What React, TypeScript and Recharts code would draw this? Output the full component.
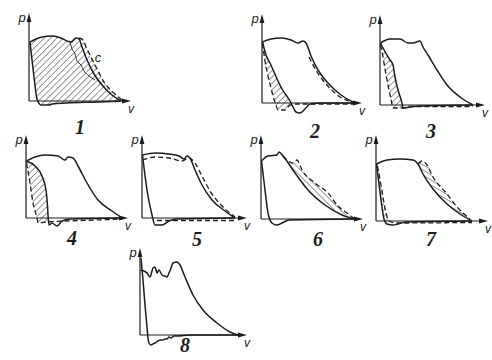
import React from 'react';
import { ComposedChart, Line, Area, Scatter, XAxis, YAxis } from 'recharts';

type Pt = [number, number];
type Rg = [number, number, number];

// ---------- panel 1 ----------
const P1_UPPER: Pt[] = [[1,59],[7,62],[13,64],[23,65],[32,63],[38,60],[42,59],[47,63],[50,62],[53,54],[58,41],[65,27],[73,16],[83,6],[92,0]];
const P1_LOWER: Pt[] = [[1,59],[3,41],[5,24],[8,2],[12,-4],[20,-4],[23,-3],[37,-2],[70,-1],[92,0]];
const P1_INNER: Pt[] = [[41,59],[43,52],[46,47],[48,40],[52,36],[55,30],[60,25],[66,21]];
const P1_DASH: Pt[] = [[50,63],[53,62],[58,52],[67,34],[75,19],[87,6],[93,1]];
const H1: Rg[] = [[1,59,59],[3,41,61],[5,24,62],[8,2,63],[12,-4,64],[20,-4,65],[23,-3,65],[32,-2,63],[38,-2,60],[42,-2,59],[47,-2,63],[53,-1,62],[58,-1,52],[67,-1,34],[75,-1,19],[87,-1,6],[92,0,1]];

// ---------- panel 2 ----------
const P2_UPPER: Pt[] = [[0.5,61],[9,64],[19,65],[29,63],[36,60],[41,62],[44,60],[49,47],[56,33],[66,20],[79,8],[93,0]];
const P2_LOWER: Pt[] = [[0.5,61],[4,48],[8,40],[12,31],[16,22],[20,14],[24,8],[28,2],[31,-4],[34,-9],[38,-10],[43,-6],[48,-1],[60,0],[93,0]];
const P2_DASH_LOW: Pt[] = [[0.5,60],[3,42],[6,27],[9,15],[11,7],[14,-2],[16,-7],[23,-7],[28,-2],[35,-1],[93,-1]];
const P2_DASH_DESC: Pt[] = [[47,46],[55,31],[65,18],[78,6],[92,1]];
const H2: Rg[] = [[0.5,60,61],[3,42,51],[6,27,44],[8,20,40],[11,7,33],[14,-2,27],[16,-7,22],[20,-7,14],[24,-5,8],[28,-2,2]];

// ---------- panel 3 ----------
const P3_UPPER: Pt[] = [[0.5,62],[10,66],[20,66],[28,62],[33,62],[40,64],[43,58],[48,50],[57,35],[67,20],[80,8],[93,0]];
const P3_LOWER: Pt[] = [[0.5,62],[3,57],[10,45],[13,40],[15,28],[18,15],[22,2],[23,-3],[30,-2],[40,-1],[93,0]];
const P3_DASH: Pt[] = [[0.5,60],[3,48],[5,36],[8,20],[11,6],[13,-3],[22,-3],[30,-1.5],[93,-1.5]];
const H3: Rg[] = [[1,59,61],[3,48,57],[5,36,53],[8,20,48],[10,12,45],[11,6,44],[13,-3,40],[15,-3,28],[18,-3,15],[22,-3,2],[23,-3,-3]];

// ---------- panel 4 ----------
const P4_UPPER: Pt[] = [[0.5,57],[9,61],[19,63],[32,62],[39,58],[42,61],[47,60],[52,52],[61,35],[72,18],[86,7],[96,0]];
const P4_LOWER: Pt[] = [[0.5,57],[9,52],[16,42],[20,28],[21.5,12],[22.2,0],[23,-7],[26,-5],[31,-8],[36,-3],[45,-1],[96,0]];
const P4_DASH: Pt[] = [[0.5,55],[4,35],[7,15],[11,0],[12,-5],[20,-4],[40,-3],[70,-2],[96,-1]];
const H4: Rg[] = [[0.5,55,57],[4,35,55],[7,15,54],[9,7,52],[11,0,49],[12,-4,47],[16,-4,42],[20,-4,28],[21.5,-4,12],[22.2,-4,0]];

// ---------- panel 5 ----------
const P5_UPPER: Pt[] = [[0.5,63],[13,65],[27,64],[37,62],[42,59],[45,62],[48,60],[53,48],[60,33],[70,18],[83,7],[93,0]];
const P5_UP_DASH: Pt[] = [[0.5,58],[13,61],[27,60],[40,57],[47,60],[53,55],[60,42],[68,27],[80,12],[93,1]];
const P5_LOWER: Pt[] = [[0.5,63],[5,28],[10,3],[13,-7],[20,-7],[27,-3],[35,-1],[93,0]];
const P5_LOW_DASH: Pt[] = [[15,-2.5],[93,-2.5]];

// ---------- panel 6 ----------
const P6_UPPER: Pt[] = [[0.5,58],[7,63],[16,64],[18,67],[22,63],[34,46],[47,29],[64,14],[81,4],[94,0]];
const P6_DASH: Pt[] = [[22,63],[27,58],[32,56],[36,59],[41,49],[54,36],[67,26],[77,13],[86,6],[94,0]];
const H6: Rg[] = [[22,63,63],[27,56,58],[32,49,56],[36,44,59],[41,38,49],[47,29,42],[54,23,36],[64,14,28],[67,12,26],[77,7,13],[86,3,6],[94,0,0]];
const P6_LOWER: Pt[] = [[0.5,58],[4,29],[7,6],[11,-4],[16,-6],[21,-4],[28,-1],[94,0]];

// ---------- panel 7 ----------
const P7_UPPER: Pt[] = [[0.5,57],[11,61],[24,62],[37,61],[42,57],[47,47],[57,32],[71,17],[84,7],[96,0]];
const P7_DASH: Pt[] = [[42,57],[46,60],[51,56],[57,44],[71,27],[81,14],[94,2]];
const H7: Rg[] = [[42,57,57],[46,49,60],[51,40,56],[57,32,44],[64,24,36],[71,17,27],[81,9,14],[94,1,2]];
const P7_LOWER: Pt[] = [[0.5,57],[3,37],[6,14],[8,2],[11,-3],[17,-4],[22,-3],[30,-1],[96,0]];
const P7_LOW_DASH: Pt[] = [[1.5,55],[5,36],[8,18],[10,8],[13,0],[20,-2],[96,-1.5]];
const H7B: Rg[] = [[1.5,52,55],[3,37,46],[5,22,36],[6,14,32],[8,2,18],[10,-2,8],[12,-3,2]];

// ---------- panel 8 ----------
const P8_UPPER: Pt[] = [[0.5,65],[4,64],[7,62],[10,58],[12,64],[13,67],[15,68],[17,62],[19,65],[22,60],[25,59],[27,58],[29,62],[31,67],[33,72],[37,73],[40,70],[45,58],[53,40],[63,25],[77,12],[90,3],[98,0]];
const P8_LOWER: Pt[] = [[1,77],[3,55],[5,30],[7,8],[8,-3],[9,-8],[11,-10],[13,-9],[15,-8],[18,-6],[20,-5],[23,-5],[25,-4],[27,-4],[29,-2],[31,-3],[34,-1],[37,-1],[50,0],[98,0]];

// axis lengths (p-axis top, v-axis end) and labels
const AXIS_TOPS = [88, 89, 90, 83, 83, 84, 86, 87];
const AXIS_ENDS = [102, 100, 105, 102, 105, 102, 112, 107];
const NUM_LABELS = ['1', '2', '3', '4', '5', '6', '7', '8'];

const INK = '#1c1c1c';

const pts = (a: Pt[]) => a.map(([v, p]) => ({ v, p }));
const rng = (a: Rg[]) => a.map(([v, lo, hi]) => ({ v, range: [lo, hi] }));

interface Series { data: Pt[]; dashed?: boolean; thin?: boolean }
interface Hatch { data: Rg[]; dir: number }

const SERIES: Series[][] = [
  [{ data: P1_UPPER }, { data: P1_LOWER }, { data: P1_INNER, thin: true }, { data: P1_DASH, dashed: true }],
  [{ data: P2_UPPER }, { data: P2_LOWER }, { data: P2_DASH_LOW, dashed: true }, { data: P2_DASH_DESC, dashed: true }],
  [{ data: P3_UPPER }, { data: P3_LOWER }, { data: P3_DASH, dashed: true }],
  [{ data: P4_UPPER }, { data: P4_LOWER }, { data: P4_DASH, dashed: true }],
  [{ data: P5_UPPER }, { data: P5_LOWER }, { data: P5_UP_DASH, dashed: true }, { data: P5_LOW_DASH, dashed: true }],
  [{ data: P6_UPPER }, { data: P6_LOWER }, { data: P6_DASH, dashed: true }],
  [{ data: P7_UPPER }, { data: P7_LOWER }, { data: P7_DASH, dashed: true }, { data: P7_LOW_DASH, dashed: true }],
  [{ data: P8_UPPER }, { data: P8_LOWER }],
];

const HATCHES: Hatch[][] = [
  [{ data: H1, dir: 45 }],
  [{ data: H2, dir: 45 }],
  [{ data: H3, dir: 45 }],
  [{ data: H4, dir: 45 }],
  [],
  [{ data: H6, dir: -45 }],
  [{ data: H7, dir: -60 }, { data: H7B, dir: 45 }],
  [],
];

// layout (page pixels of each panel's origin, and label centres)
const LAYOUT = [
  { ox: 29, oy: 101, lx: 80, ly: 127 },
  { ox: 262, oy: 103, lx: 315, ly: 131 },
  { ox: 380, oy: 105, lx: 431, ly: 131 },
  { ox: 26, oy: 218, lx: 72, ly: 238 },
  { ox: 142, oy: 218, lx: 197, ly: 239 },
  { ox: 261, oy: 219, lx: 318, ly: 239 },
  { ox: 376, oy: 221, lx: 431, ly: 239 },
  { ox: 140, oy: 335, lx: 185, ly: 345 },
];

const CW = 140, CH = 120, X0 = -12, X1 = 128, Y0 = -20, Y1 = 100;

const UpArrow = (props: any) => {
  const { cx, cy } = props;
  return <polygon points={`${cx},${cy} ${cx - 2.4},${cy + 9} ${cx + 2.4},${cy + 9}`} fill={INK} />;
};
const RightArrow = (props: any) => {
  const { cx, cy } = props;
  return <polygon points={`${cx},${cy} ${cx - 9},${cy - 2.4} ${cx - 9},${cy + 2.4}`} fill={INK} />;
};

function Panel({ i }: { i: number }) {
  const { ox, oy } = LAYOUT[i];
  const top = AXIS_TOPS[i];
  const end = AXIS_ENDS[i];
  const axisY = pts([[0, 0], [0, top - 6]]);
  const axisX = pts([[0, 0], [end - 6, 0]]);
  return (
    <div style={{ position: 'absolute', left: ox + X0, top: oy - Y1 }}>
      <ComposedChart width={CW} height={CH} margin={{ top: 0, right: 0, bottom: 0, left: 0 }}>
        <defs>
          {HATCHES[i].map((h, k) => (
            <pattern key={k} id={`hatch-${i}-${k}`} width={4.5} height={4.5} patternUnits="userSpaceOnUse" patternTransform={`rotate(${h.dir})`}>
              <line x1={0} y1={0} x2={0} y2={4.5} stroke={INK} strokeWidth={0.9} />
            </pattern>
          ))}
        </defs>
        <XAxis type="number" dataKey="v" domain={[X0, X1]} hide allowDataOverflow />
        <YAxis type="number" dataKey="p" domain={[Y0, Y1]} hide allowDataOverflow />
        {HATCHES[i].map((h, k) => (
          <Area key={`h${k}`} data={rng(h.data)} dataKey="range" type="monotoneX" fill={`url(#hatch-${i}-${k})`} fillOpacity={1} stroke="none" isAnimationActive={false} dot={false} activeDot={false} />
        ))}
        <Line data={axisY} dataKey="p" type="linear" stroke={INK} strokeWidth={1.2} dot={false} activeDot={false} isAnimationActive={false} />
        <Line data={axisX} dataKey="p" type="linear" stroke={INK} strokeWidth={1.2} dot={false} activeDot={false} isAnimationActive={false} />
        <Scatter data={pts([[0, top]])} dataKey="p" shape={UpArrow} isAnimationActive={false} />
        <Scatter data={pts([[end, 0]])} dataKey="p" shape={RightArrow} isAnimationActive={false} />
        {SERIES[i].map((s, k) => (
          <Line key={`s${k}`} data={pts(s.data)} dataKey="p" type="monotoneX" stroke={INK}
            strokeWidth={s.thin ? 0.9 : s.dashed ? 1.3 : 1.5}
            strokeDasharray={s.dashed ? '5 3' : undefined}
            dot={false} activeDot={false} isAnimationActive={false} />
        ))}
      </ComposedChart>
    </div>
  );
}

const txt: React.CSSProperties = { position: 'absolute', transform: 'translate(-50%, -50%)', color: INK, lineHeight: 1, whiteSpace: 'nowrap' };

export default function App() {
  return (
    <div style={{ position: 'absolute', left: 0, top: 0, width: 492, height: 360, background: '#fff', overflow: 'hidden' }}>
      {LAYOUT.map((_, i) => <Panel key={i} i={i} />)}
      {LAYOUT.map((l, i) => (
        <React.Fragment key={`t${i}`}>
          <span style={{ ...txt, left: l.ox - 7, top: l.oy - AXIS_TOPS[i] + 4, fontFamily: 'Liberation Sans, Arial, sans-serif', fontStyle: 'italic', fontSize: 13 }}>p</span>
          <span style={{ ...txt, left: l.ox + AXIS_ENDS[i], top: l.oy + 8, fontFamily: 'Liberation Sans, Arial, sans-serif', fontStyle: 'italic', fontSize: 12 }}>v</span>
          <span style={{ ...txt, left: l.lx, top: l.ly, fontFamily: 'Liberation Serif, Times New Roman, serif', fontStyle: 'italic', fontWeight: 'bold', fontSize: 20 }}>{NUM_LABELS[i]}</span>
        </React.Fragment>
      ))}
      <span style={{ ...txt, left: 98, top: 57, fontFamily: 'Liberation Sans, Arial, sans-serif', fontStyle: 'italic', fontSize: 13 }}>c</span>
    </div>
  );
}
